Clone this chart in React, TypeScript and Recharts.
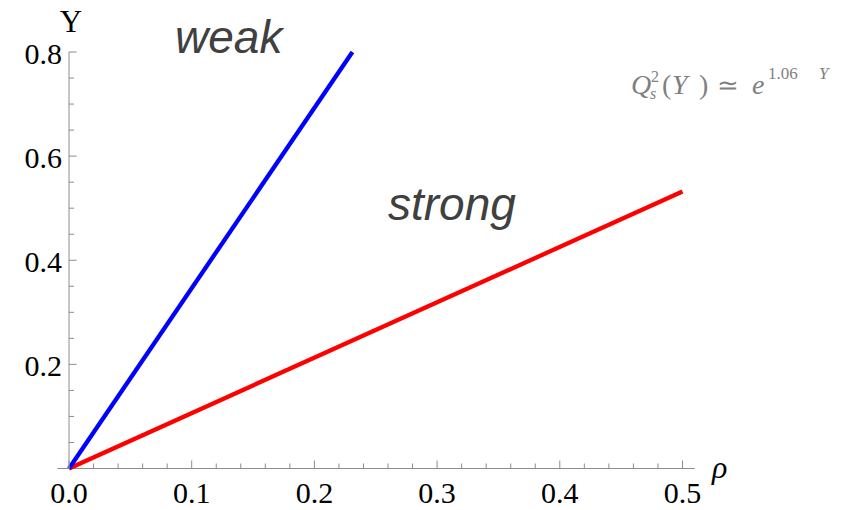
import React from "react"
import { LineChart, Line, XAxis, YAxis, ReferenceLine } from "recharts"

// weak / strong coupling boundaries, Y vs rho
const weakRho = [0, 0.231]
const weakY = [0, 0.8]
const strongRho = [0, 0.5]
const strongY = [0, 0.532]

const xMajor = [0, 0.1, 0.2, 0.3, 0.4, 0.5]
const xTicks = [
  0, 0.02, 0.04, 0.06, 0.08, 0.1, 0.12, 0.14, 0.16, 0.18, 0.2, 0.22, 0.24, 0.26, 0.28, 0.3,
  0.32, 0.34, 0.36, 0.38, 0.4, 0.42, 0.44, 0.46, 0.48, 0.5,
]
const yMajor = [0.2, 0.4, 0.6, 0.8]
const yTicks = [
  0.05, 0.1, 0.15, 0.2, 0.25, 0.3, 0.35, 0.4, 0.45, 0.5, 0.55, 0.6, 0.65, 0.7, 0.75, 0.8,
]

const axisGray = "#8c8c8c"
const serif = "'Liberation Serif', 'Times New Roman', serif"
const sans = "'Liberation Sans', Arial, sans-serif"

const isMajor = (list: number[], v: number) => list.some((m) => Math.abs(m - v) < 1e-6)

const XTick = (props: any) => {
  const { x, y, payload } = props
  const major = isMajor(xMajor, payload.value)
  return (
    <g>
      <line x1={x} x2={x} y1={y} y2={y - (major ? 8 : 5)} stroke={axisGray} />
      {major && (
        <text x={x} y={y + 34.5} textAnchor="middle" fontFamily={serif} fontSize={30} fill="#000">
          {payload.value.toFixed(1)}
        </text>
      )}
    </g>
  )
}

const YTick = (props: any) => {
  const { x, y, payload } = props
  const major = isMajor(yMajor, payload.value)
  return (
    <g>
      <line x1={x} x2={x + (major ? 7.5 : 5)} y1={y} y2={y} stroke={axisGray} />
      {major && (
        <text x={x - 7} y={y + 11.5} textAnchor="end" fontFamily={serif} fontSize={30} fill="#000">
          {payload.value.toFixed(1)}
        </text>
      )}
    </g>
  )
}

export default function App() {
  const weakData = weakRho.map((x, i) => ({ x, y: weakY[i] }))
  const strongData = strongRho.map((x, i) => ({ x, y: strongY[i] }))

  return (
    <div style={{ position: "absolute", left: 0, top: 0, width: 848, height: 510, background: "#fff" }}>
      <LineChart width={848} height={510} margin={{ top: 52, right: 165.5, left: 0, bottom: 0 }}>
        <XAxis
          type="number"
          dataKey="x"
          domain={[0, 0.5]}
          ticks={xTicks}
          interval={0}
          height={41.5}
          axisLine={false}
          tickLine={false}
          tickSize={0}
          tickMargin={0}
          tick={<XTick />}
        />
        <YAxis
          type="number"
          domain={[0, 0.8]}
          ticks={yTicks}
          interval={0}
          width={69}
          axisLine={{ stroke: axisGray }}
          tickLine={false}
          tickSize={0}
          tickMargin={0}
          tick={<YTick />}
        />
        <ReferenceLine
          segment={[
            { x: -0.0095, y: 0 },
            { x: 0.51, y: 0 },
          ]}
          ifOverflow="visible"
          stroke={axisGray}
        />
        <Line data={strongData} dataKey="y" stroke="#ff0000" strokeWidth={4.3} dot={false} isAnimationActive={false} />
        <Line data={weakData} dataKey="y" stroke="#0000ff" strokeWidth={4.3} dot={false} isAnimationActive={false} />
      </LineChart>
      <svg
        width={848}
        height={510}
        style={{ position: "absolute", left: 0, top: 0, pointerEvents: "none" }}
      >
        <text x={71} y={32} textAnchor="middle" fontFamily={serif} fontSize={31} fill="#000">
          Y
        </text>
        <text x={712} y={478} fontFamily={serif} fontStyle="italic" fontSize={32} fill="#000">
          ρ
        </text>
        <text x={175} y={53} fontFamily={sans} fontStyle="italic" fontSize={46} fill="#404040">
          weak
        </text>
        <text x={388} y={220} fontFamily={sans} fontStyle="italic" fontSize={46} fill="#404040">
          strong
        </text>
        <g fill="#7f7f7f" fontFamily={serif}>
          <text x={631} y={94} fontSize={28} fontStyle="italic">Q</text>
          <text x={651} y={82} fontSize={16}>2</text>
          <text x={650} y={99} fontSize={16} fontStyle="italic">s</text>
          <text x={662} y={94} fontSize={28}>(</text>
          <text x={672} y={94} fontSize={28} fontStyle="italic">Y</text>
          <text x={699} y={94} fontSize={28}>)</text>
          <text x={717} y={94} fontSize={26}>≃</text>
          <text x={752} y={94} fontSize={28} fontStyle="italic">e</text>
          <text x={768} y={79} fontSize={17}>1.06</text>
          <text x={819} y={79} fontSize={17} fontStyle="italic">Y</text>
        </g>
      </svg>
    </div>
  )
}
